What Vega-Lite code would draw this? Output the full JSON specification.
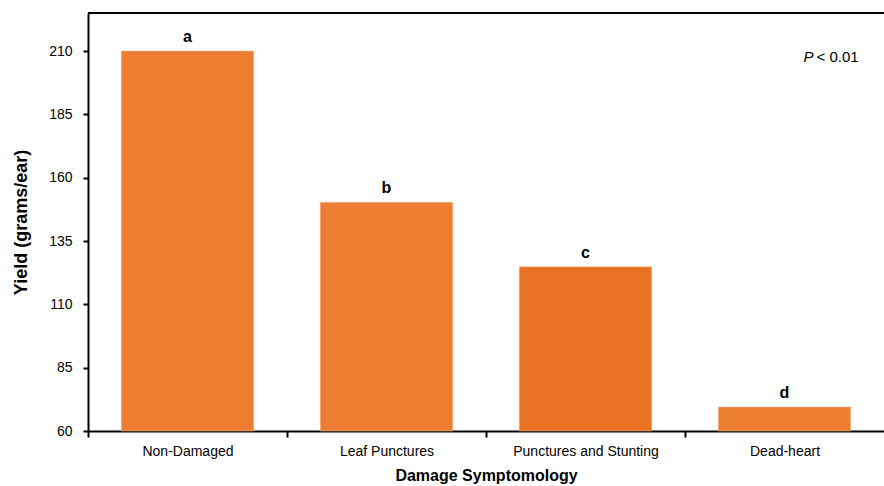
{
  "$schema": "https://vega.github.io/schema/vega-lite/v6.json",
  "width": 796,
  "height": 418,
  "autosize": {"type": "none"},
  "padding": {"left": 88, "top": 13, "right": 0, "bottom": 55},
  "background": "white",
  "config": {
    "view": {"stroke": null},
    "font": "Liberation Sans",
    "axis": {"labelFont": "Liberation Sans", "titleFont": "Liberation Sans", "labelColor": "#000", "titleColor": "#000", "domainColor": "#000", "tickColor": "#000", "domainWidth": 2, "tickWidth": 2, "grid": false}
  },
  "data": {
    "values": [
      {"symptom": "Non-Damaged", "yield": 210, "letter": "a", "group": "light"},
      {"symptom": "Leaf Punctures", "yield": 150.3, "letter": "b", "group": "light"},
      {"symptom": "Punctures and Stunting", "yield": 124.8, "letter": "c", "group": "dark"},
      {"symptom": "Dead-heart", "yield": 69.5, "letter": "d", "group": "light"}
    ]
  },
  "layer": [
    {
      "mark": {"type": "bar", "stroke": "#f6c3a0", "strokeWidth": 0.5},
      "encoding": {
        "x": {
          "field": "symptom", "type": "nominal", "sort": null,
          "scale": {"paddingInner": 0.334, "paddingOuter": 0.167},
          "axis": {"title": "Damage Symptomology", "titleFontSize": 16, "titleFontWeight": "bold", "titlePadding": 9, "labelFontSize": 14, "labelAngle": 0, "labelPadding": 7, "tickSize": 6, "tickOffset": -99.5, "labelOffset": 99.5}
        },
        "y": {
          "field": "yield", "type": "quantitative",
          "scale": {"domain": [60, 225], "nice": false, "zero": false},
          "axis": {"title": "Yield (grams/ear)", "titleFontSize": 18, "titleFontWeight": "bold", "titlePadding": 18, "values": [60, 85, 110, 135, 160, 185, 210], "labelFontSize": 14, "labelPadding": 11, "tickSize": 5}
        },
        "y2": {"datum": 60},
        "color": {"field": "group", "type": "nominal", "scale": {"domain": ["light", "dark"], "range": ["#ED7D31", "#E97123"]}, "legend": null}
      }
    },
    {
      "mark": {"type": "text", "baseline": "bottom", "dy": -6, "fontSize": 16, "fontWeight": "bold", "font": "Liberation Sans", "color": "#000"},
      "encoding": {
        "x": {"field": "symptom", "type": "nominal", "sort": null},
        "y": {"field": "yield", "type": "quantitative"},
        "text": {"field": "letter"}
      }
    },
    {
      "mark": {"type": "rule", "color": "#000", "strokeWidth": 2},
      "encoding": {"y": {"datum": 225}}
    },
    {
      "data": {"values": [{"symptom": "Dead-heart", "yv": 207.5, "p": "P", "rest": "< 0.01"}]},
      "layer": [
        {
          "mark": {"type": "text", "align": "left", "baseline": "middle", "fontSize": 15, "fontStyle": "italic", "font": "Liberation Sans", "color": "#000", "dx": 19},
          "encoding": {"x": {"field": "symptom", "type": "nominal", "sort": null}, "y": {"field": "yv", "type": "quantitative"}, "text": {"field": "p"}}
        },
        {
          "mark": {"type": "text", "align": "left", "baseline": "middle", "fontSize": 15, "font": "Liberation Sans", "color": "#000", "dx": 32},
          "encoding": {"x": {"field": "symptom", "type": "nominal", "sort": null}, "y": {"field": "yv", "type": "quantitative"}, "text": {"field": "rest"}}
        }
      ]
    }
  ]
}
